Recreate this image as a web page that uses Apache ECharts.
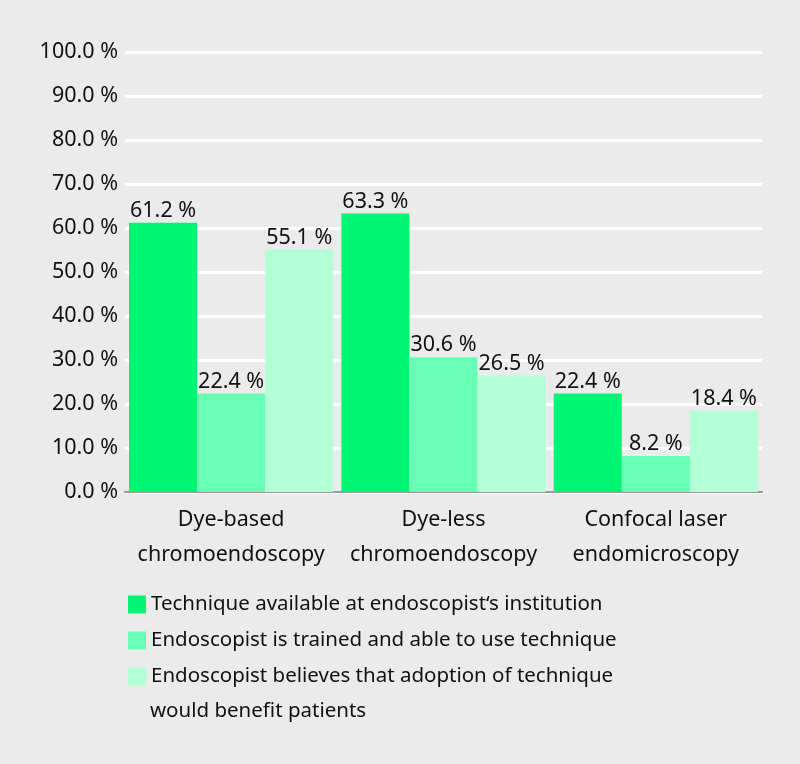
<!DOCTYPE html>
<html><head><meta charset="utf-8">
<script src="https://cdn.jsdelivr.net/npm/echarts@6/dist/echarts.min.js"></script>
<style>html,body{margin:0;padding:0;background:#ebebeb}#c{width:800px;height:764px}</style>
</head><body><div id="c"></div>
<script>
const categories = ['Dye-based\nchromoendoscopy', 'Dye-less\nchromoendoscopy', 'Confocal laser\nendomicroscopy'];
const seriesNames = ['Technique available at endoscopist\u2018s institution', 'Endoscopist is trained and able to use technique', 'Endoscopist believes that adoption of technique'];
const legendExtraLine = 'would benefit patients';
const available = [61.2, 63.3, 22.4];
const trained = [22.4, 30.6, 8.2];
const believes = [55.1, 26.5, 18.4];
const colors = ['#00f573', '#66ffb3', '#b3ffd6'];
const FONT = 'Noto Sans';

const chart = echarts.init(document.getElementById('c'));
const mk = (name, data, color) => ({
  name, type: 'bar', data, barGap: '0%', barCategoryGap: '3.8%',
  itemStyle: {color},
  label: {show: true, position: 'top', distance: 1, color: '#111', fontFamily: FONT, fontSize: 21.5,
    formatter: p => p.value.toFixed(1) + ' %'}
});
chart.setOption({
  backgroundColor: '#ebebeb',
  animation: false,
  textStyle: {fontFamily: FONT},
  grid: {left: 125, right: 38, top: 52, bottom: 272},
  xAxis: {type: 'category', data: categories,
    axisLine: {lineStyle: {color: '#999', width: 2}}, axisTick: {show: false},
    axisLabel: {interval: 0, color: '#111', fontSize: 21.5, lineHeight: 35, margin: 10, fontFamily: FONT}},
  yAxis: {type: 'value', min: 0, max: 100, interval: 10,
    axisLine: {show: false}, axisTick: {show: false},
    splitLine: {lineStyle: {color: '#ffffff', width: 3}},
    axisLabel: {color: '#111', fontSize: 21.5, margin: 7, fontFamily: FONT, formatter: v => v.toFixed(1) + ' %'}},
  legend: {orient: 'vertical', left: 123, top: 589, itemWidth: 18, itemHeight: 18, itemGap: 15,
    icon: 'rect', selectedMode: false,
    textStyle: {color: '#111', fontSize: 20.5, fontFamily: FONT, padding: [0, 0, 0, 0]},
    data: seriesNames},
  series: [mk(seriesNames[0], available, colors[0]), mk(seriesNames[1], trained, colors[1]), mk(seriesNames[2], believes, colors[2])],
  graphic: [{type: 'text', left: 150, top: 701, style: {text: legendExtraLine, fill: '#111', font: '20.5px "Noto Sans"'}}]
});
</script></body></html>
